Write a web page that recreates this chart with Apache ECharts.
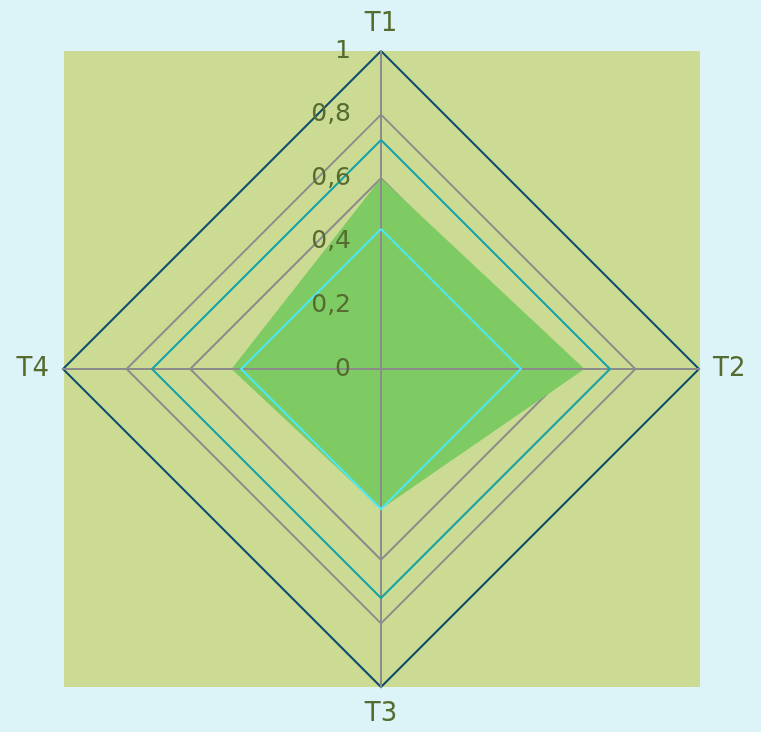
<!DOCTYPE html>
<html>
<head>
<meta charset="utf-8">
<script src="https://cdn.jsdelivr.net/npm/echarts@6/dist/echarts.min.js"></script>
<style>
  html, body { margin: 0; padding: 0; background: #dcf4f8; }
  #main { width: 761px; height: 732px; }
</style>
</head>
<body>
<div id="main"></div>
<script>
// data
var categories = ['T1', 'T2', 'T3', 'T4'];
var fillValues = [0.6, 0.64, 0.44, 0.47];
var innerValues = [0.44, 0.44, 0.44, 0.44];
var outerValues = [0.72, 0.72, 0.72, 0.72];
var radialMin = 0;
var radialMax = 1;
var radialStep = 0.2;

// echarts radar runs counter-clockwise, the reference clockwise -> reorder
var order = [0, 3, 2, 1];
function reorder(arr) { return order.map(function (i) { return arr[i]; }); }

var textColor = '#556b2f';
var font = 'DejaVu Sans';
var indicators = reorder(categories).map(function (n) {
  return { name: n, min: radialMin, max: radialMax };
});

var myChart = echarts.init(document.getElementById('main'));
var option = {
  backgroundColor: '#dcf4f8',
  animation: false,
  graphic: [{
    type: 'rect', z: -10, silent: true,
    shape: { x: 64, y: 51, width: 636, height: 636 },
    style: { fill: '#cbdb93' }
  }],
  grid: { left: 381, top: 51, width: 319, height: 318, z: 10 },
  xAxis: { type: 'value', show: false },
  yAxis: {
    type: 'value', position: 'left', z: 10,
    min: radialMin, max: radialMax, interval: radialStep,
    axisLine: { show: false }, axisTick: { show: false }, splitLine: { show: false },
    axisLabel: {
      margin: 30, color: textColor, fontSize: 25, fontFamily: font,
      formatter: function (v) { return String(+v.toFixed(1)).replace('.', ','); }
    }
  },
  radar: [{
    z: 1,
    center: [381, 369], radius: 318, shape: 'polygon', startAngle: 90,
    splitNumber: 5,
    indicator: indicators,
    nameGap: 14,
    axisName: { color: textColor, fontSize: 26, fontFamily: font },
    splitLine: { lineStyle: { color: ['#8c8c8c', '#8c8c8c', '#8c8c8c', '#8c8c8c', '#8c8c8c', '#0d4d6b'], width: 2 } },
    splitArea: { show: false },
    axisLine: { show: false },
    axisLabel: { show: false },
    axisTick: { show: false }
  }, {
    z: 5,
    center: [381, 369], radius: 318, shape: 'polygon', startAngle: 90,
    splitNumber: 5,
    indicator: indicators,
    axisName: { show: false },
    splitLine: { show: false },
    splitArea: { show: false },
    axisLine: { lineStyle: { color: '#8c8c8c', width: 2 } },
    axisLabel: { show: false },
    axisTick: { show: false }
  }],
  series: [{
    type: 'radar', radarIndex: 0, z: 2, symbol: 'none',
    lineStyle: { width: 0 },
    areaStyle: { color: '#7dcb62', opacity: 1 },
    data: [{ value: reorder(fillValues) }]
  }, {
    type: 'radar', radarIndex: 0, z: 6, symbol: 'none',
    lineStyle: { color: '#4ee8f5', width: 2 },
    data: [{ value: reorder(innerValues) }]
  }, {
    type: 'radar', radarIndex: 0, z: 6, symbol: 'none',
    lineStyle: { color: '#17a2a8', width: 2 },
    data: [{ value: reorder(outerValues) }]
  }]
};
myChart.setOption(option);
</script>
</body>
</html>
